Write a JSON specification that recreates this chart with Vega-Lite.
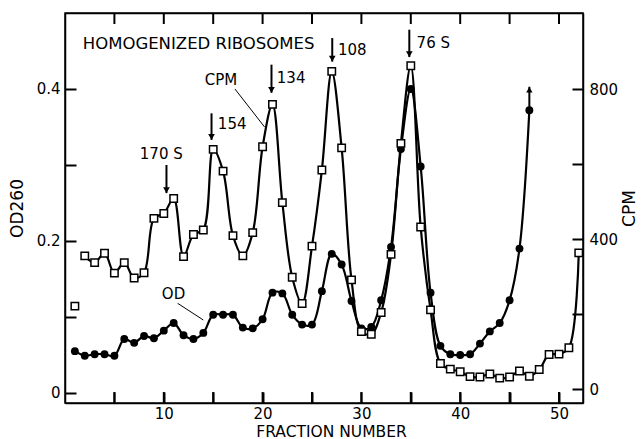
{
  "$schema": "https://vega.github.io/schema/vega-lite/v6.json",
  "width": 518,
  "height": 390,
  "autosize": {"type": "none"},
  "padding": {"left": 65, "top": 13, "right": 58, "bottom": 36},
  "background": "white",
  "config": {
    "view": {"stroke": "black", "strokeWidth": 1.5},
    "axis": {
      "grid": false,
      "ticks": true,
      "domainColor": "black",
      "domainWidth": 1.5,
      "tickColor": "black",
      "tickWidth": 2,
      "labelColor": "black",
      "titleColor": "black",
      "labelFont": "DejaVu Sans",
      "titleFont": "DejaVu Sans",
      "labelFontSize": 15,
      "titleFontSize": 16,
      "titleFontWeight": "normal",
      "labelFlush": false,
      "labelOverlap": false
    }
  },
  "datasets": {
    "od": [
      {"f": 1, "od": 0.055}, {"f": 2, "od": 0.049}, {"f": 3, "od": 0.051}, {"f": 4, "od": 0.051},
      {"f": 5, "od": 0.049}, {"f": 6, "od": 0.071}, {"f": 7, "od": 0.066}, {"f": 8, "od": 0.075},
      {"f": 9, "od": 0.072}, {"f": 10, "od": 0.082}, {"f": 11, "od": 0.092}, {"f": 12, "od": 0.076},
      {"f": 13, "od": 0.071}, {"f": 14, "od": 0.079}, {"f": 15, "od": 0.103}, {"f": 16, "od": 0.103},
      {"f": 17, "od": 0.103}, {"f": 18, "od": 0.086}, {"f": 19, "od": 0.085}, {"f": 20, "od": 0.097},
      {"f": 21, "od": 0.132}, {"f": 22, "od": 0.131}, {"f": 23, "od": 0.103}, {"f": 24, "od": 0.090},
      {"f": 25, "od": 0.090}, {"f": 26, "od": 0.134}, {"f": 27, "od": 0.183}, {"f": 28, "od": 0.169},
      {"f": 29, "od": 0.121}, {"f": 30, "od": 0.085}, {"f": 31, "od": 0.087}, {"f": 32, "od": 0.122},
      {"f": 33, "od": 0.192}, {"f": 34, "od": 0.321}, {"f": 35, "od": 0.400}, {"f": 36, "od": 0.298},
      {"f": 37, "od": 0.132}, {"f": 38, "od": 0.062}, {"f": 39, "od": 0.051}, {"f": 40, "od": 0.050},
      {"f": 41, "od": 0.051}, {"f": 42, "od": 0.065}, {"f": 43, "od": 0.081}, {"f": 44, "od": 0.092},
      {"f": 45, "od": 0.122}, {"f": 46, "od": 0.190}, {"f": 47, "od": 0.372}
    ],
    "cpm": [
      {"f": 1, "cpm": 221}, {"f": 2, "cpm": 355}, {"f": 3, "cpm": 337}, {"f": 4, "cpm": 362},
      {"f": 5, "cpm": 309}, {"f": 6, "cpm": 337}, {"f": 7, "cpm": 296}, {"f": 8, "cpm": 310},
      {"f": 9, "cpm": 455}, {"f": 10, "cpm": 468}, {"f": 11, "cpm": 508}, {"f": 12, "cpm": 353},
      {"f": 13, "cpm": 412}, {"f": 14, "cpm": 424}, {"f": 15, "cpm": 639}, {"f": 16, "cpm": 581},
      {"f": 17, "cpm": 409}, {"f": 18, "cpm": 355}, {"f": 19, "cpm": 417}, {"f": 20, "cpm": 646},
      {"f": 21, "cpm": 759}, {"f": 22, "cpm": 497}, {"f": 23, "cpm": 298}, {"f": 24, "cpm": 228},
      {"f": 25, "cpm": 381}, {"f": 26, "cpm": 584}, {"f": 27, "cpm": 847}, {"f": 28, "cpm": 643},
      {"f": 29, "cpm": 291}, {"f": 30, "cpm": 153}, {"f": 31, "cpm": 146}, {"f": 32, "cpm": 204},
      {"f": 33, "cpm": 359}, {"f": 34, "cpm": 655}, {"f": 35, "cpm": 862}, {"f": 36, "cpm": 432},
      {"f": 37, "cpm": 211}, {"f": 38, "cpm": 68}, {"f": 39, "cpm": 53}, {"f": 40, "cpm": 46},
      {"f": 41, "cpm": 33}, {"f": 42, "cpm": 32}, {"f": 43, "cpm": 40}, {"f": 44, "cpm": 29},
      {"f": 45, "cpm": 32}, {"f": 46, "cpm": 48}, {"f": 47, "cpm": 34}, {"f": 48, "cpm": 52},
      {"f": 49, "cpm": 92}, {"f": 50, "cpm": 93}, {"f": 51, "cpm": 110}, {"f": 52, "cpm": 363}
    ],
    "labels": [
      {"label": "170 S", "f": 7.57, "od": 0.3145},
      {"label": "154", "f": 15.47, "od": 0.354},
      {"label": "CPM", "f": 14.15, "od": 0.412},
      {"label": "134", "f": 21.44, "od": 0.414},
      {"label": "108", "f": 27.62, "od": 0.451},
      {"label": "76 S", "f": 35.59, "od": 0.4605},
      {"label": "OD", "f": 9.8, "od": 0.130}
    ],
    "heading": [
      {"label": "HOMOGENIZED RIBOSOMES", "f": 1.8, "od": 0.459}
    ],
    "arrows": [
      {"f": 10.27, "od": 0.300, "od2": 0.263},
      {"f": 14.83, "od": 0.368, "od2": 0.333},
      {"f": 20.9, "od": 0.432, "od2": 0.395},
      {"f": 27.05, "od": 0.467, "od2": 0.436},
      {"f": 34.85, "od": 0.478, "od2": 0.442}
    ],
    "uparrow": [
      {"f": 47, "od": 0.372, "od2": 0.403}
    ],
    "pointers": [
      {"f": 17.2, "od": 0.40, "f2": 20.2, "od2": 0.35},
      {"f": 11.4, "od": 0.118, "f2": 14.0, "od2": 0.096}
    ],
    "xticks": [
      {"f": 5}, {"f": 10}, {"f": 15}, {"f": 20}, {"f": 25},
      {"f": 30}, {"f": 35}, {"f": 40}, {"f": 45}, {"f": 50}
    ]
  },
  "layer": [
    {
      "layer": [
        {
          "data": {"name": "od"},
          "mark": {"type": "line", "color": "black", "strokeWidth": 2.2, "interpolate": "catmull-rom"},
          "encoding": {
            "x": {
              "field": "f", "type": "quantitative",
              "scale": {"domain": [0, 52.43], "nice": false, "zero": false},
              "axis": {
                "orient": "bottom",
                "values": [5, 10, 15, 20, 25, 30, 35, 40, 45, 50],
                "labelExpr": "datum.value % 10 == 0 ? datum.label : ''",
                "ticks": true,
                "tickSize": -11,
                "labelPadding": 14,
                "title": "FRACTION NUMBER",
                "titleFontSize": 15.5,
                "titleBaseline": "alphabetic",
                "titleY": 33,
                "titleX": 266
              }
            },
            "y": {
              "field": "od", "type": "quantitative",
              "scale": {"domain": [-0.0132, 0.5], "nice": false, "zero": false},
              "axis": {
                "orient": "left",
                "values": [0, 0.1, 0.2, 0.3, 0.4],
                "labelExpr": "datum.value == 0 ? '0' : ((abs(datum.value - 0.2) < 0.001 || abs(datum.value - 0.4) < 0.001) ? format(datum.value, '.1f') : '')",
                "ticks": true,
                "tickSize": -11,
                "labelPadding": 16,
                "title": "OD260",
                "titleFontSize": 17,
                "titlePadding": 10
              }
            }
          }
        },
        {
          "data": {"name": "xticks"},
          "mark": {"type": "rule", "color": "black", "strokeWidth": 2},
          "encoding": {
            "x": {"field": "f", "type": "quantitative"},
            "y": {"datum": -0.0132},
            "y2": {"datum": 0.0013}
          }
        },
        {
          "data": {"name": "xticks"},
          "mark": {"type": "rule", "color": "black", "strokeWidth": 2},
          "encoding": {
            "x": {"field": "f", "type": "quantitative"},
            "y": {"datum": 0.5},
            "y2": {"datum": 0.4855}
          }
        },
        {
          "data": {"name": "od"},
          "mark": {"type": "point", "shape": "circle", "filled": true, "color": "black", "size": 62, "opacity": 1},
          "encoding": {
            "x": {"field": "f", "type": "quantitative"},
            "y": {"field": "od", "type": "quantitative"}
          }
        },
        {
          "data": {"name": "arrows"},
          "mark": {"type": "rule", "color": "black", "strokeWidth": 2},
          "encoding": {
            "x": {"field": "f", "type": "quantitative"},
            "y": {"field": "od", "type": "quantitative"},
            "y2": {"field": "od2"}
          }
        },
        {
          "data": {"name": "arrows"},
          "mark": {"type": "point", "shape": "triangle-down", "filled": true, "color": "black", "size": 45, "opacity": 1, "yOffset": -3},
          "encoding": {
            "x": {"field": "f", "type": "quantitative"},
            "y": {"field": "od2", "type": "quantitative"}
          }
        },
        {
          "data": {"name": "uparrow"},
          "mark": {"type": "rule", "color": "black", "strokeWidth": 2},
          "encoding": {
            "x": {"field": "f", "type": "quantitative"},
            "y": {"field": "od", "type": "quantitative"},
            "y2": {"field": "od2"}
          }
        },
        {
          "data": {"name": "uparrow"},
          "mark": {"type": "point", "shape": "triangle-up", "filled": true, "color": "black", "size": 40, "opacity": 1, "yOffset": 3},
          "encoding": {
            "x": {"field": "f", "type": "quantitative"},
            "y": {"field": "od2", "type": "quantitative"}
          }
        },
        {
          "data": {"name": "pointers"},
          "mark": {"type": "rule", "color": "black", "strokeWidth": 1},
          "encoding": {
            "x": {"field": "f", "type": "quantitative"},
            "x2": {"field": "f2"},
            "y": {"field": "od", "type": "quantitative"},
            "y2": {"field": "od2"}
          }
        },
        {
          "data": {"name": "labels"},
          "mark": {"type": "text", "align": "left", "baseline": "middle", "font": "DejaVu Sans", "fontSize": 15, "color": "black"},
          "encoding": {
            "x": {"field": "f", "type": "quantitative"},
            "y": {"field": "od", "type": "quantitative"},
            "text": {"field": "label"}
          }
        },
        {
          "data": {"name": "heading"},
          "mark": {"type": "text", "align": "left", "baseline": "middle", "font": "DejaVu Sans", "fontSize": 16.5, "color": "black"},
          "encoding": {
            "x": {"field": "f", "type": "quantitative"},
            "y": {"field": "od", "type": "quantitative"},
            "text": {"field": "label"}
          }
        }
      ]
    },
    {
      "layer": [
        {
          "data": {"name": "cpm"},
          "transform": [{"filter": "datum.f >= 2"}],
          "mark": {"type": "line", "color": "black", "strokeWidth": 2.2, "interpolate": "catmull-rom"},
          "encoding": {
            "x": {
              "field": "f", "type": "quantitative",
              "scale": {"domain": [0, 52.43], "nice": false, "zero": false},
              "axis": {
                "orient": "top",
                "values": [5, 10, 15, 20, 25, 30, 35, 40, 45, 50],
                "labels": false,
                "ticks": false,
                "title": null
              }
            },
            "y": {
              "field": "cpm", "type": "quantitative",
              "scale": {"domain": [-37.3, 1002.7], "nice": false, "zero": false},
              "axis": {
                "orient": "right",
                "values": [0, 200, 400, 600, 800],
                "labelExpr": "datum.value % 400 == 0 ? datum.label : ''",
                "ticks": true,
                "tickSize": -11,
                "labelPadding": 17,
                "title": "CPM",
                "titleFontSize": 17,
                "titleAngle": 270,
                "titlePadding": 21
              }
            }
          }
        },
        {
          "data": {"name": "cpm"},
          "mark": {"type": "point", "shape": "square", "filled": true, "fill": "white", "stroke": "black", "strokeWidth": 1.5, "size": 55, "opacity": 1},
          "encoding": {
            "x": {"field": "f", "type": "quantitative"},
            "y": {"field": "cpm", "type": "quantitative"}
          }
        }
      ]
    }
  ],
  "resolve": {"scale": {"y": "independent"}, "axis": {"x": "independent"}}
}
